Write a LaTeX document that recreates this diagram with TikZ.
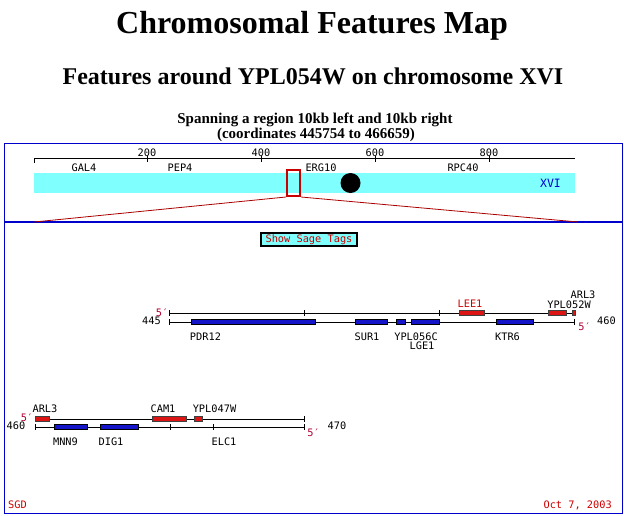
\documentclass[tikz,border=0pt]{standalone}
\usepackage{fontspec}
\setmainfont{Liberation Serif}
\newfontfamily\mapfont{DejaVu Sans Mono}
\definecolor{mapblue}{RGB}{0,0,204}
\definecolor{bandcyan}{RGB}{128,255,255}
\definecolor{zoomred}{RGB}{200,0,0}
\definecolor{labred}{RGB}{204,0,0}
\definecolor{primered}{RGB}{175,0,50}
\definecolor{genered}{RGB}{220,20,20}
\definecolor{geneblue}{RGB}{20,20,200}
\begin{document}
\begin{tikzpicture}[x=1pt,y=-1pt,
    lbl/.style={font=\mapfont\fontsize{10.3}{11}\selectfont,inner sep=0pt},
    redlbl/.style={lbl,text=labred},
    primelbl/.style={lbl,text=primered},
    watson/.style={fill=genered,draw=black!75,line width=0.5pt},
    crick/.style={fill=geneblue,draw=black,line width=0.5pt},
    strand/.style={line width=0.9pt}]
        \useasboundingbox (0,0) rectangle (624,515);

        % titles
        \node[anchor=base,font=\bfseries\fontsize{32}{36}\selectfont] (title) at (312,33) {Chromosomal Features Map};
        \node[anchor=base,font=\bfseries\fontsize{24}{28}\selectfont] (subtitle) at (313,84) {Features around YPL054W on chromosome XVI};
        \node[anchor=base,font=\bfseries\fontsize{15}{15}\selectfont] (span) at (315,123) {Spanning a region 10kb left and 10kb right};
        \node[anchor=base,font=\bfseries\fontsize{15}{15}\selectfont] (coords) at (316,138) {(coordinates 445754 to 466659)};

        % frames
        \draw[mapblue,line width=0.8pt] (4,143) rectangle (622,513);
        \draw[mapblue,line width=2pt] (4,222) -- (622,222);

        % whole chromosome
        \draw[line width=0.8pt] (34,163) -- (34,158) -- (575,158);
        \foreach \x/\v in {147/200,261/400,375/600,489/800} {
            \draw[line width=0.8pt] (\x,156) -- (\x,162);
            \node[lbl] (tick\v) at (\x,153) {\v};
        }
        \fill[bandcyan] (34,173) rectangle (575,193);
        \node[lbl] (gal4) at (84,168) {GAL4};
        \node[lbl] (pep4) at (180,168) {PEP4};
        \node[lbl] (erg10) at (321,168) {ERG10};
        \node[lbl] (rpc40) at (463,168) {RPC40};
        \node[circle,fill=black,minimum size=20pt,inner sep=0pt] (cen) at (350.5,183) {};
        \node[lbl,text=mapblue,font=\mapfont\fontsize{11.5}{12}\selectfont] (chrom) at (550.5,183.5) {XVI};

        % zoomed region
        \node[draw=zoomred,line width=2pt,minimum width=13pt,minimum height=26pt,inner sep=0pt] (zoom) at (293.5,183) {};
        \coordinate (zleft) at (34,222);
        \coordinate (zright) at (578,222);
        \draw[zoomred!85!black,line width=0.8pt] (zoom.south west) -- (zleft);
        \draw[zoomred!85!black,line width=0.8pt] (zoom.south east) -- (zright);

        % button
        \node[lbl,draw=black,line width=2pt,fill=bandcyan,text=labred,minimum width=96pt,minimum height=13pt] (sage) at (309,239.5) {Show Sage Tags};

        % first row, 445 to 460
        \draw[strand] (169,313) -- (575,313);
        \draw[strand] (169,322) -- (574,322);
        \foreach \x in {169,304,439,575} \draw[line width=0.8pt] (\x,310) -- (\x,316);
        \foreach \x in {169,574} \draw[line width=0.8pt] (\x,319) -- (\x,325);
        \filldraw[watson] (459,310.5) rectangle (484,315.5);
        \filldraw[watson] (548,310.5) rectangle (566,315.5);
        \filldraw[watson] (572,310.5) rectangle (575,315.5);
        \filldraw[crick] (191,319.5) rectangle (315,324.5);
        \filldraw[crick] (355,319.5) rectangle (387,324.5);
        \filldraw[crick] (396,319.5) rectangle (405,324.5);
        \filldraw[crick] (411,319.5) rectangle (439,324.5);
        \filldraw[crick] (496,319.5) rectangle (533,324.5);
        \node[primelbl] (p1l) at (162,312.5) {5′};
        \node[lbl] (kb445) at (151.5,320.5) {445};
        \node[lbl] (kb460a) at (606.5,320.5) {460};
        \node[primelbl] (p1r) at (584.5,327) {5′};
        \node[redlbl] (lee1) at (470,304) {LEE1};
        \node[lbl] (ypl052w) at (569,304.5) {YPL052W};
        \node[lbl] (arl3a) at (583,294.5) {ARL3};
        \node[lbl] (pdr12) at (205.5,337) {PDR12};
        \node[lbl] (sur1) at (367,337) {SUR1};
        \node[lbl] (ypl056c) at (416,337) {YPL056C};
        \node[lbl] (lge1) at (422,346) {LGE1};
        \node[lbl] (ktr6) at (507.5,337) {KTR6};

        % second row, 460 to 470
        \draw[strand] (35,419) -- (304,419);
        \draw[strand] (35,427) -- (304,427);
        \foreach \x in {35,304} \draw[line width=0.8pt] (\x,416) -- (\x,422);
        \foreach \x in {35,170,213,304} \draw[line width=0.8pt] (\x,424) -- (\x,430);
        \filldraw[watson] (35,416.5) rectangle (49,421.5);
        \filldraw[watson] (152,416.5) rectangle (186,421.5);
        \filldraw[watson] (194,416.5) rectangle (202,421.5);
        \filldraw[crick] (54,424.5) rectangle (87,429.5);
        \filldraw[crick] (100,424.5) rectangle (138,429.5);
        \node[primelbl] (p2l) at (27,418) {5′};
        \node[lbl] (kb460b) at (16,425.5) {460};
        \node[lbl] (kb470) at (337,425.5) {470};
        \node[primelbl] (p2r) at (313.5,432.5) {5′};
        \node[lbl] (arl3b) at (45,409) {ARL3};
        \node[lbl] (cam1) at (163,409) {CAM1};
        \node[lbl] (ypl047w) at (214.5,409) {YPL047W};
        \node[lbl] (mnn9) at (65.5,442) {MNN9};
        \node[lbl] (dig1) at (111,442) {DIG1};
        \node[lbl] (elc1) at (224,442) {ELC1};

        % footer
        \node[redlbl,anchor=base west] (sgd) at (8,508) {SGD};
        \node[redlbl,anchor=base east] (date) at (612,508) {Oct 7, 2003};
\end{tikzpicture}
\end{document}
